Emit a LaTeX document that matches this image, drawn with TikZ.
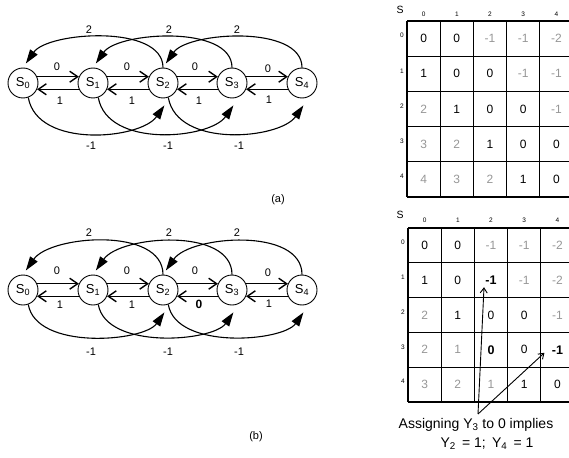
\documentclass[tikz,border=0pt]{standalone}
\usepackage{fontspec}
\setmainfont{Liberation Sans}
\usetikzlibrary{arrows.meta,calc}
\definecolor{faded}{RGB}{150,150,150}
\begin{document}
\begin{tikzpicture}[x=1pt,y=1pt,
  state/.style={circle,draw,line width=0.9pt,minimum size=30pt,inner sep=0pt,
    font=\fontsize{13}{13}\selectfont},
  lbl/.style={inner sep=0pt,font=\fontsize{11}{11}\selectfont},
  lblB/.style={inner sep=0pt,font=\fontsize{12}{12}\selectfont\bfseries},
  flow/.style={line width=1.4pt,-{Straight Barb[length=8pt,width=11pt]}},
  jump/.style={line width=1.1pt,-{Triangle[length=14pt,width=9pt]}},
  jumpup/.style={jump,shorten >=5pt},
  jumpdn/.style={jump,shorten >=11pt},
  grid/.style={line width=1.2pt},
  hdr/.style={inner sep=0pt,font=\fontsize{6.5}{6.5}\selectfont},
  tname/.style={inner sep=0pt,font=\fontsize{10.5}{10.5}\selectfont},
  vk/.style={inner sep=0pt,font=\fontsize{12}{12}\selectfont},
  vg/.style={vk,text=faded},
  vB/.style={inner sep=0pt,font=\fontsize{12.5}{12.5}\selectfont\bfseries},
  ptr/.style={line width=0.9pt,-{Straight Barb[length=5pt,width=7pt]}},
  note/.style={inner sep=0pt,anchor=base,font=\fontsize{14}{14}\selectfont},
]
\useasboundingbox (0,0) rectangle (569,-457);

% ---------- the two state chains ----------
\foreach \p/\yc/\lt/\lb in {a/83/0.80/0.94, b/290/0.88/0.84} {
  \foreach \i/\x in {0/23,1/93,2/163,3/232,4/302}
    \node[state] (\p\i) at (\x,-\yc) {S\textsubscript{\i}};
  \foreach \i/\j in {0/1,1/2,2/3,3/4} {
    \draw[flow] (\p\i.24) -- (\p\j.156);
    \draw[flow] (\p\j.-156) -- (\p\i.-24);
  }
  \foreach \i/\k in {0/2,1/3,2/4} {
    \draw[jumpup] (\p\k.north) to[out=90,in=55,looseness=\lt] (\p\i.north);
    \draw[jumpdn] (\p\i.-70) to[out=-80,in=-125,looseness=\lb] (\p\k.-60);
  }
}

% edge weights, chain (a)
\node[lbl] (wa01) at (57,-67) {0};
\node[lbl] (wa12) at (127,-67) {0};
\node[lbl] (wa23) at (195,-67) {0};
\node[lbl] (wa34) at (268,-69) {0};
\node[lbl] (wa10) at (60,-101) {1};
\node[lbl] (wa21) at (132,-101) {1};
\node[lbl] (wa32) at (199,-101) {1};
\node[lbl] (wa43) at (269,-100) {1};
\node[lbl] (wa20) at (89,-30) {2};
\node[lbl] (wa31) at (169,-30) {2};
\node[lbl] (wa42) at (237,-30) {2};
\node[lbl] (wa02) at (91,-146) {-1};
\node[lbl] (wa13) at (168,-146) {-1};
\node[lbl] (wa24) at (239,-146) {-1};
\node[lbl] (capa) at (278,-200) {(a)};

% edge weights, chain (b)
\node[lbl] (wb01) at (57,-271) {0};
\node[lbl] (wb12) at (127,-271) {0};
\node[lbl] (wb23) at (195,-271) {0};
\node[lbl] (wb34) at (268,-273) {0};
\node[lbl] (wb10) at (60,-305) {1};
\node[lbl] (wb21) at (132,-305) {1};
\node[lblB] (wb32) at (199,-304) {0};
\node[lbl] (wb43) at (269,-304) {1};
\node[lbl] (wb20) at (89,-233) {2};
\node[lbl] (wb31) at (169,-233) {2};
\node[lbl] (wb42) at (237,-233) {2};
\node[lbl] (wb02) at (91,-352) {-1};
\node[lbl] (wb13) at (168,-352) {-1};
\node[lbl] (wb24) at (239,-352) {-1};
\node[lbl] (capb) at (256,-437) {(b)};

% ---------- distance table (a) ----------
\node[tname] (sa) at (400,-10) {S};
\foreach \k in {0,...,5}
  \draw[grid] (407,{-(21+35.2*\k)}) -- (569,{-(21+35.2*\k)});
\foreach \k in {0,...,4}
  \draw[grid] ({407+33.2*\k},-21) -- ({407+33.2*\k},-197);
\foreach \k in {0,...,4} {
  \node[hdr] (ca\k) at ({423.6+33.2*\k},-14) {\k};
  \node[hdr] (ra\k) at (402,{-(35.6+35.2*\k)}) {\k};
}
\foreach \row [count=\r from 0] in {
  {0/vk,0/vk,-1/vg,-1/vg,-2/vg},
  {1/vk,0/vk,0/vk,-1/vg,-1/vg},
  {2/vg,1/vk,0/vk,0/vk,-1/vg},
  {3/vg,2/vg,1/vk,0/vk,0/vk},
  {4/vg,3/vg,2/vg,1/vk,0/vk}}
  \foreach \v/\s [count=\c from 0] in \row
    \node[\s] (ta\r\c) at ({423.6+33.2*\c},{-(38.6+35.2*\r)}) {\v};

% ---------- distance table (b) ----------
\node[tname] (sb) at (400,-215) {S};
\foreach \k in {0,...,5}
  \draw[grid] (408,{-(228+34.8*\k)}) -- (569,{-(228+34.8*\k)});
\foreach \k in {0,...,4}
  \draw[grid] ({408+33.2*\k},-228) -- ({408+33.2*\k},-402);
\foreach \k in {0,...,4} {
  \node[hdr] (cb\k) at ({424.6+33.2*\k},-220) {\k};
  \node[hdr] (rb\k) at (403,{-(242.4+34.8*\k)}) {\k};
}
\foreach \row [count=\r from 0] in {
  {0/vk,0/vk,-1/vg,-1/vg,-2/vg},
  {1/vk,0/vk,-1/vB,-1/vg,-2/vg},
  {2/vg,1/vk,0/vk,0/vk,-1/vg},
  {2/vg,1/vg,0/vB,0/vk,-1/vB},
  {3/vg,2/vg,1/vg,1/vk,0/vk}}
  \foreach \v/\s [count=\c from 0] in \row
    \node[\s] (tb\r\c) at ({424.6+33.2*\c},{-(245.4+34.8*\r)}) {\v};

% ---------- implication note ----------
\coordinate (fork) at (478,-414);
\coordinate (hitA) at ($(tb12)+(-7,-7)$);
\coordinate (hitB) at ($(tb34)+(-13,-3)$);
\draw[ptr] (fork) -- (hitA);
\draw[ptr] (fork) -- (hitB);
\node[note] (note1) at (476,-428) {Assigning Y\textsubscript{3} to 0 implies};
\node[note] (note2) at (487,-447) {Y\textsubscript{2} \,= 1; \,Y\textsubscript{4} \,= 1};
\end{tikzpicture}
\end{document}
